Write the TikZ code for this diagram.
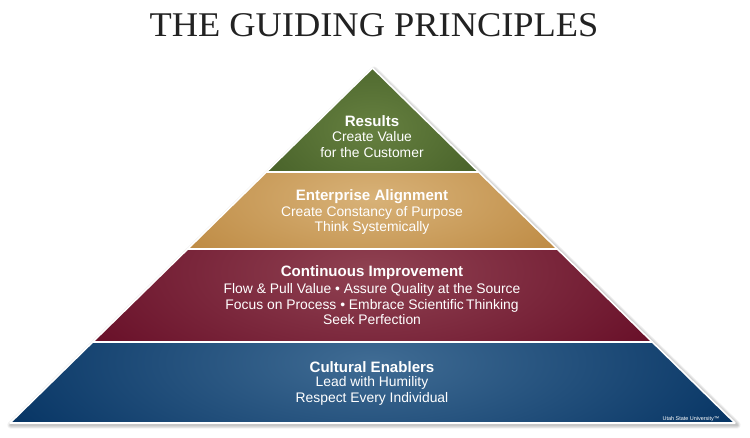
\documentclass[tikz,border=0pt]{standalone}
\usepackage{fontspec}
\newfontfamily\pyrfont{Liberation Sans}
\newfontfamily\titlefont{Liberation Serif}

\definecolor{resultsDark}{RGB}{62,88,34}
\definecolor{resultsLight}{RGB}{102,128,64}
\definecolor{alignDark}{RGB}{180,124,48}
\definecolor{alignLight}{RGB}{216,178,120}
\definecolor{improveDark}{RGB}{100,10,36}
\definecolor{improveLight}{RGB}{144,66,82}
\definecolor{enableDark}{RGB}{4,50,98}
\definecolor{enableLight}{RGB}{64,108,148}

\begin{document}
\begin{tikzpicture}[x=0.75pt,y=0.75pt,yscale=-1,xscale=1,
  layer/.style={draw=white, line width=1.2pt, line join=round},
  heading/.style={text=white, inner sep=0.75pt, font=\pyrfont\bfseries\fontsize{11.3}{12}\selectfont},
  body/.style={text=white, inner sep=0.75pt, align=center, font=\pyrfont\fontsize{10.4}{11.6}\selectfont}]
\useasboundingbox (0,0) rectangle (750,437);

%Shape: Shadow
\foreach \w in {1,...,5}
  \draw [black, opacity=0.05, line width=\w*1.1pt, line join=round] (374,70) -- (737,425) -- (11,425) -- cycle ;

%Shape: Triangle (Results)
\begin{scope}
\clip (372.5,68) -- (478.7,172) -- (266.3,172) -- cycle ;
\fill [resultsDark] (260,60) rectangle (490,175) ;
\shade [inner color=resultsLight, outer color=resultsDark] (372,128) ellipse (170 and 110) ;
\end{scope}
\draw [layer] (372.5,68) -- (478.7,172) -- (266.3,172) -- cycle ;

%Shape: Trapezoid (Enterprise Alignment)
\begin{scope}
\clip (266.3,172) -- (478.7,172) -- (557.3,249) -- (187.7,249) -- cycle ;
\fill [alignDark] (180,170) rectangle (570,252) ;
\shade [inner color=alignLight, outer color=alignDark] (372,198) ellipse (310 and 120) ;
\end{scope}
\draw [layer] (266.3,172) -- (478.7,172) -- (557.3,249) -- (187.7,249) -- cycle ;

%Shape: Trapezoid (Continuous Improvement)
\begin{scope}
\clip (187.7,249) -- (557.3,249) -- (652.3,342) -- (92.7,342) -- cycle ;
\fill [improveDark] (85,246) rectangle (665,345) ;
\shade [inner color=improveLight, outer color=improveDark] (372,272) ellipse (360 and 150) ;
\end{scope}
\draw [layer] (187.7,249) -- (557.3,249) -- (652.3,342) -- (92.7,342) -- cycle ;

%Shape: Trapezoid (Cultural Enablers)
\begin{scope}
\clip (92.7,342) -- (652.3,342) -- (735,423) -- (10,423) -- cycle ;
\fill [enableDark] (0,340) rectangle (750,428) ;
\shade [inner color=enableLight, outer color=enableDark] (372,362) ellipse (420 and 150) ;
\end{scope}
\draw [layer] (92.7,342) -- (652.3,342) -- (735,423) -- (10,423) -- cycle ;

% Text Node
\draw (374,25) node (title) [text={rgb,255:red,34;green,34;blue,34}, inner sep=0pt, font=\titlefont\fontsize{26}{28}\selectfont] {\scalebox{1.05}[1]{THE GUIDING PRINCIPLES}};

% Text Node
\draw (372,121) node (resHead) [heading] {Results};
\draw (372,144.5) node (resBody) [body] {Create Value\\for the Customer};

% Text Node
\draw (372,197) node (alignHead) [heading] {Enterprise Alignment};
\draw (372,220.5) node (alignBody) [body] {Create Constancy of Purpose\\Think Systemically};

% Text Node
\draw (372,273) node (improveHead) [heading] {Continuous Improvement};
\draw (372,304.5) node (improveBody) [body] {Flow \& Pull Value • Assure Quality at the Source\\Focus on Process • Embrace Scientific\,Thinking\\Seek Perfection};

% Text Node
\draw (372,367) node (enableHead) [heading] {Cultural Enablers};
\draw (372,391) node (enableBody) [body] {Lead with Humility\\Respect Every Individual};

% Text Node
\draw (691,419) node (usu) [text=white, inner sep=0.75pt, font=\pyrfont\fontsize{4.1}{5}\selectfont] {Utah State University™};

\end{tikzpicture}
\end{document}
